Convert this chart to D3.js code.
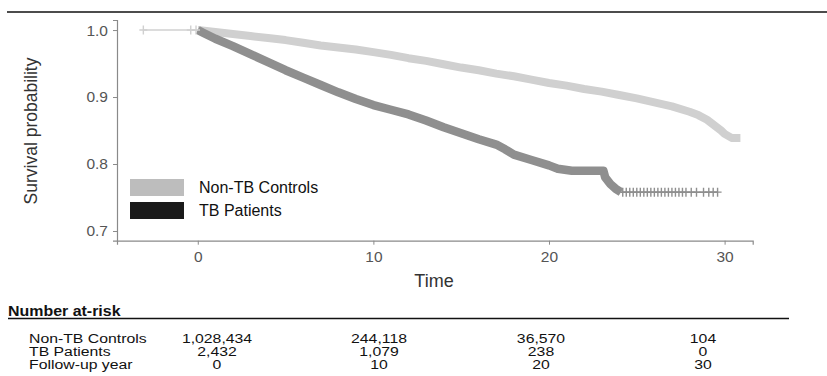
<!DOCTYPE html>
<html>
<head>
<meta charset="utf-8">
<script src="https://cdn.jsdelivr.net/npm/d3@7"></script>
<style>
  body { margin: 0; background: #fff; }
  svg { display: block; font-family: "Liberation Sans", Arial, sans-serif; }
</style>
</head>
<body>
<script>
// Kaplan-Meier estimates
var groups = ["Non-TB Controls", "TB Patients"];

var ctrlTime = [0, 1, 2, 3, 4, 5, 6, 7, 8, 9, 10, 11, 12, 13, 14, 15, 16, 17, 18, 19, 20, 21, 22, 23, 24, 25, 26, 27, 28, 28.5, 29, 29.5, 29.8, 30, 30.4, 30.9];
var ctrlSurv = [1.0, 0.997, 0.994, 0.991, 0.988, 0.985, 0.981, 0.977, 0.974, 0.971, 0.967, 0.963, 0.958, 0.954, 0.949, 0.944, 0.940, 0.935, 0.931, 0.926, 0.921, 0.917, 0.912, 0.908, 0.903, 0.898, 0.892, 0.886, 0.878, 0.873, 0.866, 0.856, 0.850, 0.845, 0.839, 0.839];

var tbTime = [0, 0.3, 1, 2, 3, 4, 5, 6, 7, 8, 9, 10, 11, 12, 13, 14, 15, 16, 17, 17.5, 18, 19, 20, 20.5, 21.3, 23.1, 23.2, 23.5, 23.8, 24.1];
var tbSurv = [1.0, 0.996, 0.987, 0.976, 0.964, 0.952, 0.940, 0.929, 0.918, 0.907, 0.897, 0.888, 0.881, 0.874, 0.865, 0.855, 0.846, 0.837, 0.829, 0.822, 0.814, 0.806, 0.798, 0.793, 0.790, 0.790, 0.780, 0.770, 0.763, 0.758];
var tbTailEnd = 29.6;
var tbCensor = [24.2, 24.4, 24.6, 24.8, 25.0, 25.2, 25.4, 25.6, 25.8, 26.0, 26.2, 26.4, 26.6, 26.8, 27.0, 27.2, 27.4, 27.6, 27.8, 28.1, 28.4, 28.8, 29.1, 29.35, 29.6];

// at-risk table
var riskYears = [0, 10, 20, 30];
var riskCtrl = ["1,028,434", "244,118", "36,570", "104"];
var riskTb = ["2,432", "1,079", "238", "0"];

var W = 827, H = 376;
var svg = d3.select("body").append("svg").attr("width", W).attr("height", H);

// top rule
svg.append("line").attr("x1", 7).attr("x2", W).attr("y1", 12).attr("y2", 12)
  .attr("stroke", "#111").attr("stroke-width", 1.5);

var x = d3.scaleLinear().domain([-4.6, 31.6]).range([117, 752.7]);
var y = d3.scaleLinear().domain([0.6855, 1.015]).range([240.7, 20]);

var colors = { ctrl: "#d0d0d0", tb: "#8f8f8f" };

// axes
var yAxis = svg.append("g").attr("transform", "translate(" + x.range()[0] + ",0)")
  .call(d3.axisLeft(y).tickValues([0.7, 0.8, 0.9, 1.0]).tickFormat(d3.format(".1f")).tickSize(4).tickPadding(5));
var xAxis = svg.append("g").attr("transform", "translate(0," + y.range()[0] + ")")
  .call(d3.axisBottom(x).tickValues([0, 10, 20, 30]).tickSize(4).tickPadding(6));
[xAxis, yAxis].forEach(function (a) {
  a.select(".domain").attr("stroke", "#8a8a8a").attr("stroke-width", 1.2);
  a.selectAll(".tick line").attr("stroke", "#8a8a8a");
  a.selectAll(".tick text").attr("fill", "#555").style("font-size", "15.5px")
    .style("font-family", "Liberation Sans, Arial, sans-serif");
});

svg.append("text").attr("transform", "translate(37,131) rotate(-90)")
  .attr("text-anchor", "middle").attr("fill", "#333").style("font-size", "17.5px")
  .text("Survival probability");
svg.append("text").attr("x", 434).attr("y", 287).attr("text-anchor", "middle")
  .attr("fill", "#333").style("font-size", "18px").text("Time");

// curves
var line = d3.line().x(function (d) { return x(d[0]); }).y(function (d) { return y(d[1]); });

var ctrlPts = ctrlTime.map(function (t, i) { return [t, ctrlSurv[i]]; });
var tbPts = tbTime.map(function (t, i) { return [t, tbSurv[i]]; });
var tbLast = tbPts[tbPts.length - 1];

// pre-zero segment of controls
svg.append("path").attr("d", line([[-3.1, 1.0], [0, 1.0]]))
  .attr("fill", "none").attr("stroke", colors.ctrl).attr("stroke-width", 1.5);

svg.append("path").attr("d", line(ctrlPts)).attr("fill", "none")
  .attr("stroke", colors.ctrl).attr("stroke-width", 8).attr("stroke-linejoin", "round");

svg.append("path").attr("d", line(tbPts)).attr("fill", "none")
  .attr("stroke", colors.tb).attr("stroke-width", 8.5).attr("stroke-linejoin", "round");
svg.append("path").attr("d", line([tbLast, [tbTailEnd, tbLast[1]]])).attr("fill", "none")
  .attr("stroke", colors.tb).attr("stroke-width", 1.5);

// censor marks
function plus(sel, pts, col) {
  sel.selectAll(null).data(pts).enter().append("path")
    .attr("d", function (d) {
      var cx = x(d[0]), cy = y(d[1]);
      return "M" + (cx - 4) + "," + cy + "H" + (cx + 4) + "M" + cx + "," + (cy - 4.5) + "V" + (cy + 4.5);
    })
    .attr("stroke", col).attr("stroke-width", 1.4).attr("fill", "none");
}
plus(svg, [[-3.1, 1.0], [-0.4, 1.0], [-0.1, 1.0]], colors.ctrl);
plus(svg, tbCensor.map(function (t) { return [t, tbLast[1]]; }), colors.tb);

// legend
var legend = svg.append("g").attr("transform", "translate(130,179)");
var legCol = ["#bdbdbd", "#1a1a1a"];
groups.forEach(function (g, i) {
  legend.append("rect").attr("x", 0).attr("y", i * 23).attr("width", 54).attr("height", 17)
    .attr("fill", legCol[i]);
  legend.append("text").attr("x", 69).attr("y", i * 23 + 14).attr("fill", "#111")
    .style("font-size", "16px").text(g);
});

// number at risk table (text is a little wider than tall in the source)
function tableText(tx, ty, s, anchor, size, sx) {
  return svg.append("text").attr("transform", "translate(" + tx + "," + ty + ") scale(" + sx + ",1)")
    .attr("text-anchor", anchor).style("font-size", size + "px").attr("fill", "#111").text(s);
}
tableText(8, 316, "Number at-risk", "start", 14.5, 1.1).style("font-weight", "bold");
svg.append("line").attr("x1", 8).attr("x2", 789).attr("y1", 318.5).attr("y2", 318.5)
  .attr("stroke", "#111").attr("stroke-width", 1.3);

var col = d3.scalePoint().domain(riskYears).range([217, 703]);
var rows = [["Non-TB Controls", riskCtrl], ["TB Patients", riskTb],
  ["Follow-up year", riskYears.map(String)]];
rows.forEach(function (r, i) {
  var yy = 343 + i * 13;
  tableText(29, yy, r[0], "start", 13.5, 1.17);
  r[1].forEach(function (v, j) {
    tableText(col(riskYears[j]), yy, v, "middle", 13.5, 1.17);
  });
});
</script>
</body>
</html>
